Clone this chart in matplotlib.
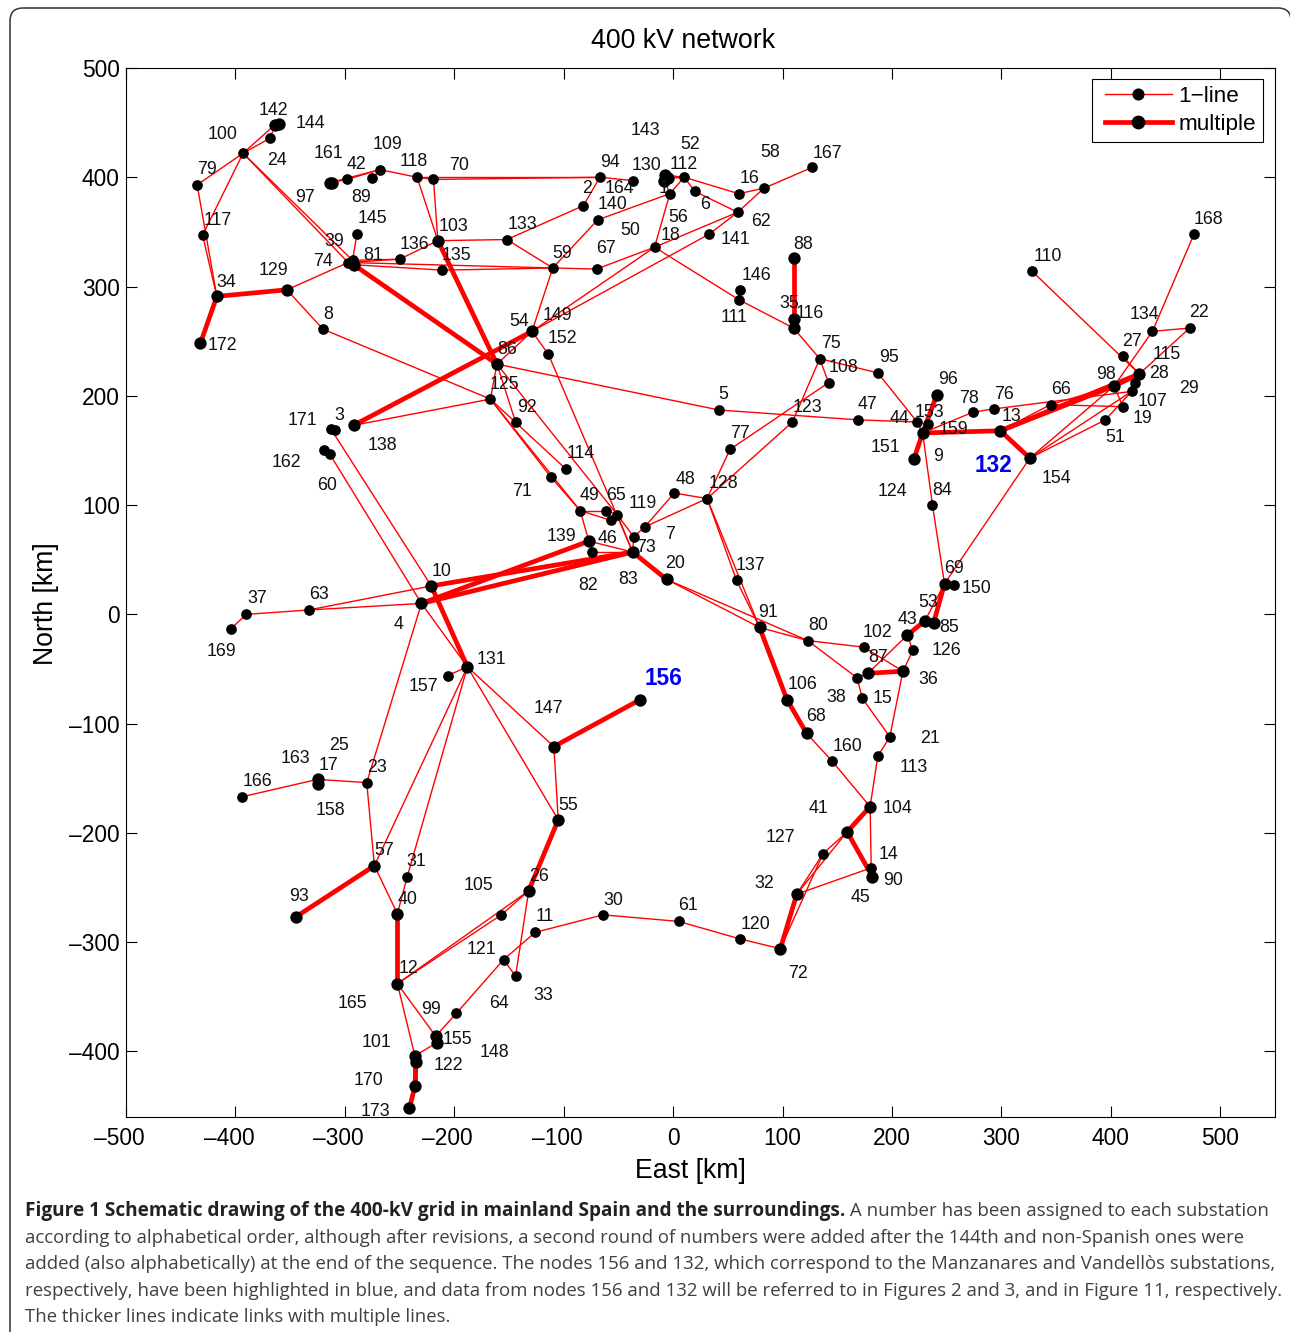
import matplotlib
matplotlib.use("Agg")
import matplotlib.pyplot as plt
from matplotlib.lines import Line2D
from matplotlib.legend_handler import HandlerLine2D
from matplotlib.patches import FancyBboxPatch
from matplotlib.transforms import ScaledTranslation

plt.rcParams['font.family'] = ['Liberation Sans', 'DejaVu Sans']

# substations, east / north in km
nodes = """
142 -364 448
144 -360 449
24 -368 436
100 -393 422
79 -435 393
117 -430 347
34 -417 291
172 -432 248
129 -353 297
8 -320 261
161 -314 395
97 -312 395
42 -298 398
89 -275 399
109 -268 407
118 -234 400
70 -219 398
145 -289 348
74 -297 322
39 -293 324
81 -292 320
136 -250 325
103 -215 342
133 -152 343
135 -211 315
59 -110 317
54 -129 259
152 -114 238
86 -161 229
125 -167 197
92 -144 176
3 -292 173
171 -313 170
138 -309 169
162 -319 150
60 -314 147
94 -67 400
164 -37 397
2 -82 374
140 -69 361
143 -7 402
130 -5 399
52 -8 397
1 -3 385
112 10 400
6 20 387
16 60 385
58 83 390
167 127 409
62 59 368
141 33 348
18 -17 336
67 -70 316
146 61 297
111 60 288
88 110 326
35 110 270
116 110 262
75 134 234
108 142 212
95 187 221
5 42 187
123 109 176
47 169 178
168 476 348
110 328 314
22 472 262
134 438 259
27 411 236
28 426 220
115 422 212
107 419 204
98 403 209
19 411 190
51 395 178
66 345 192
76 293 188
78 274 185
13 299 168
154 326 143
96 241 201
44 223 176
153 233 174
159 228 166
151 220 142
84 237 100
77 52 151
114 -98 133
71 -112 126
48 1 111
128 31 106
49 -85 95
65 -61 95
119 -51 91
119b -57 86
7 -26 80
73 -36 71
139 -77 67
46 -74 57
83 -37 57
20 -6 32
137 58 31
91 79 -12
10 -221 26
4 -230 10
131 -188 -48
157 -206 -56
156 -30 -78
69 248 28
150 257 27
53 230 -6
85 238 -8
43 214 -19
126 219 -33
102 174 -30
80 123 -24
36 210 -52
87 178 -54
38 168 -58
15 173 -77
106 104 -78
68 122 -109
21 198 -112
113 187 -130
160 145 -134
104 180 -176
41 159 -199
127 137 -219
14 181 -232
90 182 -240
32 113 -256
147 -109 -121
55 -105 -188
23 -280 -154
17 -325 -151
158 -325 -155
166 -394 -167
57 -273 -230
31 -243 -240
93 -345 -277
40 -252 -274
26 -132 -253
105 -157 -275
11 -126 -291
30 -64 -275
121 -155 -316
33 -144 -331
12 -252 -338
64 -198 -365
99 -217 -386
155 -216 -392
101 -236 -404
122 -235 -410
170 -236 -432
173 -241 -452
61 5 -281
120 61 -297
72 98 -306
37 -390 0
169 -404 -13
63 -333 4
"""

one_line = """
142-100 24-100 142-24 100-79 100-117 100-39 100-74 79-34 117-34 129-74 129-8 8-125
161-42 161-109 42-109 89-109 109-118 118-70 70-94 118-94 118-103 70-103 103-133
103-136 136-74 136-39 145-39 133-59 133-2 2-94 74-59 81-135 135-59 59-67 67-18
18-62 18-54 141-54 141-62 62-58 16-58 16-112 6-112 6-62 58-167 18-1 1-140 140-59
1-112 94-164 143-112 130-112 52-1 18-111 111-116 146-111 116-75 75-108 75-95
75-123 108-77 95-44 5-86 5-47 47-44 123-128 77-128 86-54 59-54 54-152 152-83
86-125 86-92 86-119 119-73 125-3 125-71 125-49 125-114 71-49 49-65
49-119b 119b-119 65-119 49-139 139-83 46-83 46-139 119-83 73-7 7-48 7-128 48-128
73-83 128-137 128-91 137-91 20-91 20-80 91-80 171-10 60-4 4-131 162-60 138-171
10-63 4-63 63-37 37-169 157-131 4-23 23-17 17-166 23-57
57-131 131-31 31-40 57-40 131-55 131-147 147-55 26-105 26-12 105-12 26-33 121-33
121-11 11-30 30-61 61-120 120-72 121-64 64-99 12-99 12-101 155-101 122-101
32-127 72-127 127-41 32-41 32-14 104-14 104-160 160-68 104-113 113-21 21-36 21-15
15-38 38-80 80-102 102-36 38-87 87-43 43-126 126-36 53-69 69-150 69-84 84-159
154-69 159-44 159-153 159-78 78-76 76-107 13-66 66-19 66-98 154-98 154-107 154-51
51-107 98-19 28-115 115-107 134-168 134-22 22-28 98-134 110-28 27-28 14-90
"""

multiple = """
34-129 34-172 3-54 81-86 103-86 88-35 35-116 83-20 83-10 83-4 139-4 10-131 57-93
40-12 147-156 55-26 101-170 170-173 72-32 41-104 41-90 68-106 106-91 87-36 43-53
53-85 85-69 159-96 159-151 159-13 13-98 13-28 13-154 98-28 122-170
142-144 161-97 143-130 130-52 17-158 99-155 101-122
"""

# label text, east, north
labels = """
142 -365 462
144 -331 450
100 -412 440
24 -362 416
79 -426 408
161 -315 423
109 -261 431
42 -289 413
118 -237 415
70 -196 412
97 -336 382
89 -285 382
145 -275 363
117 -416 361
103 -201 356
136 -236 339
39 -310 342
74 -320 324
81 -274 329
135 -198 329
133 -138 358
59 -101 331
129 -365 316
34 -408 305
8 -315 275
172 -412 247
54 -141 269
149 -106 274
152 -101 253
86 -152 243
125 -154 211
92 -134 190
171 -339 178
3 -305 183
138 -266 155
162 -353 140
60 -316 119
143 -25 444
52 16 431
94 -58 414
130 -24 412
112 10 413
58 89 424
167 141 423
16 70 400
164 -49 391
2 -79 391
1 -9 391
6 29 376
140 -55 376
56 5 364
50 -39 352
18 -2 348
62 80 360
141 57 344
67 -61 336
88 119 339
146 76 311
111 56 273
35 106 285
116 125 276
75 144 249
108 156 227
95 197 236
5 46 202
123 123 190
47 178 193
77 61 166
114 -84 148
48 11 124
128 46 121
71 -138 113
49 -76 110
65 -52 110
119 -28 102
7 -3 74
139 -102 72
46 -60 70
73 -25 62
83 -41 33
82 -78 27
20 2 47
137 71 46
91 87 3
10 -212 40
37 -380 15
63 -324 19
169 -413 -33
4 -251 -8
131 -166 -40
157 -228 -65
147 -114 -85
80 133 -9
102 187 -16
126 250 -32
43 214 -4
53 233 12
85 252 -11
69 257 43
150 277 25
87 187 -39
36 233 -59
38 149 -75
15 191 -76
106 118 -63
68 131 -93
21 235 -113
113 220 -139
160 159 -120
104 205 -177
41 133 -177
127 98 -203
14 197 -219
90 201 -243
45 171 -258
32 83 -245
120 75 -283
72 114 -328
61 14 -266
30 -55 -261
11 -117 -276
26 -123 -239
105 -178 -247
121 -175 -306
64 -159 -355
33 -119 -348
55 -96 -174
23 -271 -139
25 -305 -119
163 -345 -131
17 -315 -137
166 -380 -152
158 -313 -179
57 -264 -215
31 -235 -225
40 -243 -260
93 -342 -257
12 -242 -323
165 -293 -355
99 -221 -361
155 -197 -388
148 -163 -400
101 -271 -391
122 -205 -412
170 -278 -426
173 -272 -454
168 489 362
110 342 328
134 431 275
22 481 277
27 419 251
115 451 239
28 444 221
29 471 208
98 396 220
66 354 207
76 302 202
78 270 198
13 309 182
107 438 196
19 429 180
51 404 163
154 350 125
96 251 216
153 234 186
44 207 180
159 256 170
151 194 154
9 242 145
124 200 113
84 246 114
"""
blue_labels = ["156", "132"]
blue_east = [-9, 293]
blue_north = [-59, 136]

x_ticks = list(range(-500, 501, 100))
y_ticks = list(range(-400, 501, 100))

caption_bold = "Figure 1 Schematic drawing of the 400-kV grid in mainland Spain and the surroundings."
caption_first = " A number has been assigned to each substation"
caption_rest = [
    "according to alphabetical order, although after revisions, a second round of numbers were added after the 144th and non-Spanish ones were",
    "added (also alphabetically) at the end of the sequence. The nodes 156 and 132, which correspond to the Manzanares and Vandellòs substations,",
    "respectively, have been highlighted in blue, and data from nodes 156 and 132 will be referred to in Figures 2 and 3, and in Figure 11, respectively.",
    "The thicker lines indicate links with multiple lines.",
]
# the original lines are justified, so each gets its own size
caption_sizes = [13.36, 13.42, 13.44, 13.36]

pos = {}
for row in nodes.split("\n"):
    if row.strip():
        name, e, n = row.split()
        pos[name] = (float(e), float(n))


def draw_links(ax, text, lw, ms):
    ends = set()
    for pair in text.split():
        a, b = pair.split("-")
        ends.update([a, b])
        ax.plot([pos[a][0], pos[b][0]], [pos[a][1], pos[b][1]], color='red', lw=lw,
                solid_capstyle='butt', zorder=2)
    xs = [pos[k][0] for k in ends]
    ys = [pos[k][1] for k in ends]
    ax.plot(xs, ys, ls='none', marker='o', color='k', ms=ms, mew=0, zorder=3)


def tick_text(v):
    return str(v).replace("-", "\u2013")


W, H = 1290, 1332
fig = plt.figure(figsize=(W / 100, H / 100), dpi=100)
ax = fig.add_axes([126 / W, 1 - 1117 / H, (1275 - 126) / W, (1117 - 68) / H])

draw_links(ax, one_line, 1.0, 7.7)
draw_links(ax, multiple, 3.4, 8.9)

for row in labels.split("\n"):
    if row.strip():
        s, e, n = row.split()
        ax.annotate(s, (float(e), float(n)), xytext=(0, -0.7), textcoords='offset points', fontsize=12.8,
                    ha='center', va='center', color='#111111', zorder=4)
for s, e, n in zip(blue_labels, blue_east, blue_north):
    ax.text(e, n, s, fontsize=16.3, ha='center', va='center', color='#0000ee', fontweight='bold', zorder=4)

ax.set_xlim(-500, 550)
ax.set_ylim(-460, 500)
ax.set_xticks(x_ticks, [tick_text(v) for v in x_ticks])
ax.set_yticks(y_ticks, [tick_text(v) for v in y_ticks])
ax.tick_params(direction='in', top=True, right=True, length=8, width=0.8, labelsize=16.4)
ax.tick_params(axis='x', pad=7.2)
ax.tick_params(axis='y', pad=4.5)
# negative x labels sit a bit left of their ticks in the original
shift = ScaledTranslation(-6.5 / 100, 0, fig.dpi_scale_trans)
for v, t in zip(x_ticks, ax.get_xticklabels()):
    if v < 0:
        t.set_transform(t.get_transform() + shift)

ax.set_xlabel("East [km]", fontsize=19.2, labelpad=5.5, x=(690.5 - 126) / 1149)
ax.set_ylabel("North [km]", fontsize=19.2, labelpad=7.5, y=(1117 - 604) / 1049)
ax.set_title("400 kV network", fontsize=19.3, pad=14.5, x=(683.5 - 126) / 1149)

handles = [
    Line2D([], [], color='red', lw=1.0, marker='o', mfc='k', mec='k', ms=7.7),
    Line2D([], [], color='red', lw=3.4, marker='o', mfc='k', mec='k', ms=8.9),
]
leg = ax.legend(handles, ["1\u2212line", "multiple"], loc='upper right', fontsize=16.2,
                bbox_to_anchor=(0.9896, 0.9895), borderaxespad=0, fancybox=False,
                framealpha=1, edgecolor='k', numpoints=1, handlelength=3.25, labelspacing=0.32,
                borderpad=0.3, handletextpad=0.31,
                handler_map={Line2D: HandlerLine2D(xpad=0.28)})
leg.get_frame().set_linewidth(0.8)

# page frame
fig.add_artist(FancyBboxPatch((10, H - 1400), 1281, 1392, boxstyle="round,pad=0,rounding_size=13",
                              transform=None, fc='none', ec='#333333', lw=1.1, zorder=0))

# caption, the bold start and the rest of its line are two texts
caption_font = ['Open Sans', 'DejaVu Sans']
bold = fig.text(25 / W, 1 - 1216 / H, caption_bold, fontsize=13.73, fontweight='bold',
                family=caption_font, color='#222222')
fig.canvas.draw()
box = bold.get_window_extent()
fig.text(box.x1 / W, 1 - 1216 / H, caption_first, fontsize=13.5, family=caption_font, color='#404040')
for i, line in enumerate(caption_rest):
    fig.text(25 / W, 1 - (1243 + i * 26.4) / H, line, fontsize=caption_sizes[i], family=caption_font, color='#404040')

fig.savefig("out.png", dpi=100)
